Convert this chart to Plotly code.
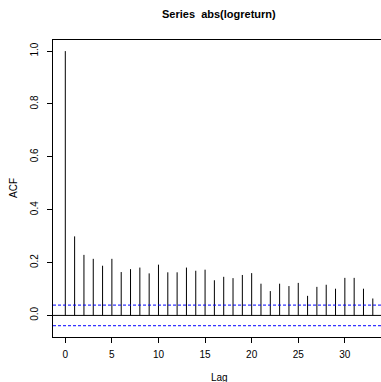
import plotly.graph_objects as go

lags = list(range(0, 34))
acf = [1.0, 0.299, 0.229, 0.214, 0.188, 0.214, 0.164, 0.175, 0.181, 0.159,
       0.192, 0.163, 0.163, 0.181, 0.169, 0.173, 0.133, 0.146, 0.141, 0.153,
       0.160, 0.120, 0.092, 0.120, 0.111, 0.123, 0.074, 0.108, 0.116, 0.101,
       0.142, 0.142, 0.101, 0.064]
ci = 0.039
title = "Series  abs(logreturn)"
xlab = "Lag"
ylab = "ACF"
xticks = [0, 5, 10, 15, 20, 25, 30]
yticks = [0.0, 0.2, 0.4, 0.6, 0.8, 1.0]

FONT = "Liberation Sans, Arial, Helvetica, sans-serif"
W, H = 381, 382
ML, MR, MT, MB = 53, 0, 40, 45

xs, ys = [], []
for l, a in zip(lags, acf):
    xs += [l, l, None]
    ys += [0, a, None]

fig = go.Figure()
fig.add_trace(go.Scatter(x=xs, y=ys, mode="lines",
                         line=dict(color="#000000", width=1), hoverinfo="skip",
                         showlegend=False))
xr = [-1.32, 33.88]
for v in (ci, -ci):
    fig.add_trace(go.Scatter(x=xr, y=[v, v], mode="lines",
                             line=dict(color="#0000FF", width=1, dash="3px,2px"),
                             showlegend=False, hoverinfo="skip"))
fig.add_shape(type="line", xref="paper", x0=0, x1=1, yref="y", y0=0, y1=0,
              line=dict(color="#000000", width=1))


def px2paper(px, py):
    return (px - ML) / (W - ML - MR), (H - MB - py) / (H - MT - MB)


tx, ty = px2paper(219, 14)
lx, ly = px2paper(219, 377)
ax_, ay_ = px2paper(13, 188)

fig.update_layout(
    width=W, height=H,
    margin=dict(l=ML, r=MR, t=MT, b=MB),
    plot_bgcolor="white", paper_bgcolor="white",
    font=dict(family=FONT, size=10, color="#000000"),
    showlegend=False,
    xaxis=dict(range=xr, tickvals=xticks, ticktext=[str(t) for t in xticks],
               showgrid=False, zeroline=False, showline=True, mirror=True,
               linecolor="#000000", linewidth=1, ticks="outside", ticklen=5,
               tickcolor="#000000", tickfont=dict(size=10), ticklabelstandoff=3),
    yaxis=dict(range=[-0.0817, 1.042], tickvals=yticks,
               ticktext=[f"{t:.1f}" for t in yticks], tickangle=-90,
               showgrid=False, zeroline=False, showline=True, mirror=False,
               linecolor="#000000", linewidth=1, ticks="outside", ticklen=5,
               tickcolor="#000000", tickfont=dict(size=10), ticklabelstandoff=5),
    annotations=[
        dict(text="<b>" + title + "</b>", xref="paper", yref="paper",
             x=tx, y=ty, showarrow=False,
             font=dict(size=11), xanchor="center", yanchor="middle"),
        dict(text=xlab, xref="paper", yref="paper", x=lx, y=ly,
             showarrow=False, font=dict(size=10), xanchor="center", yanchor="middle"),
        dict(text=ylab, xref="paper", yref="paper", x=ax_, y=ay_,
             showarrow=False, font=dict(size=10), textangle=-90,
             xanchor="center", yanchor="middle"),
    ],
)
fig.write_html("out.html")
